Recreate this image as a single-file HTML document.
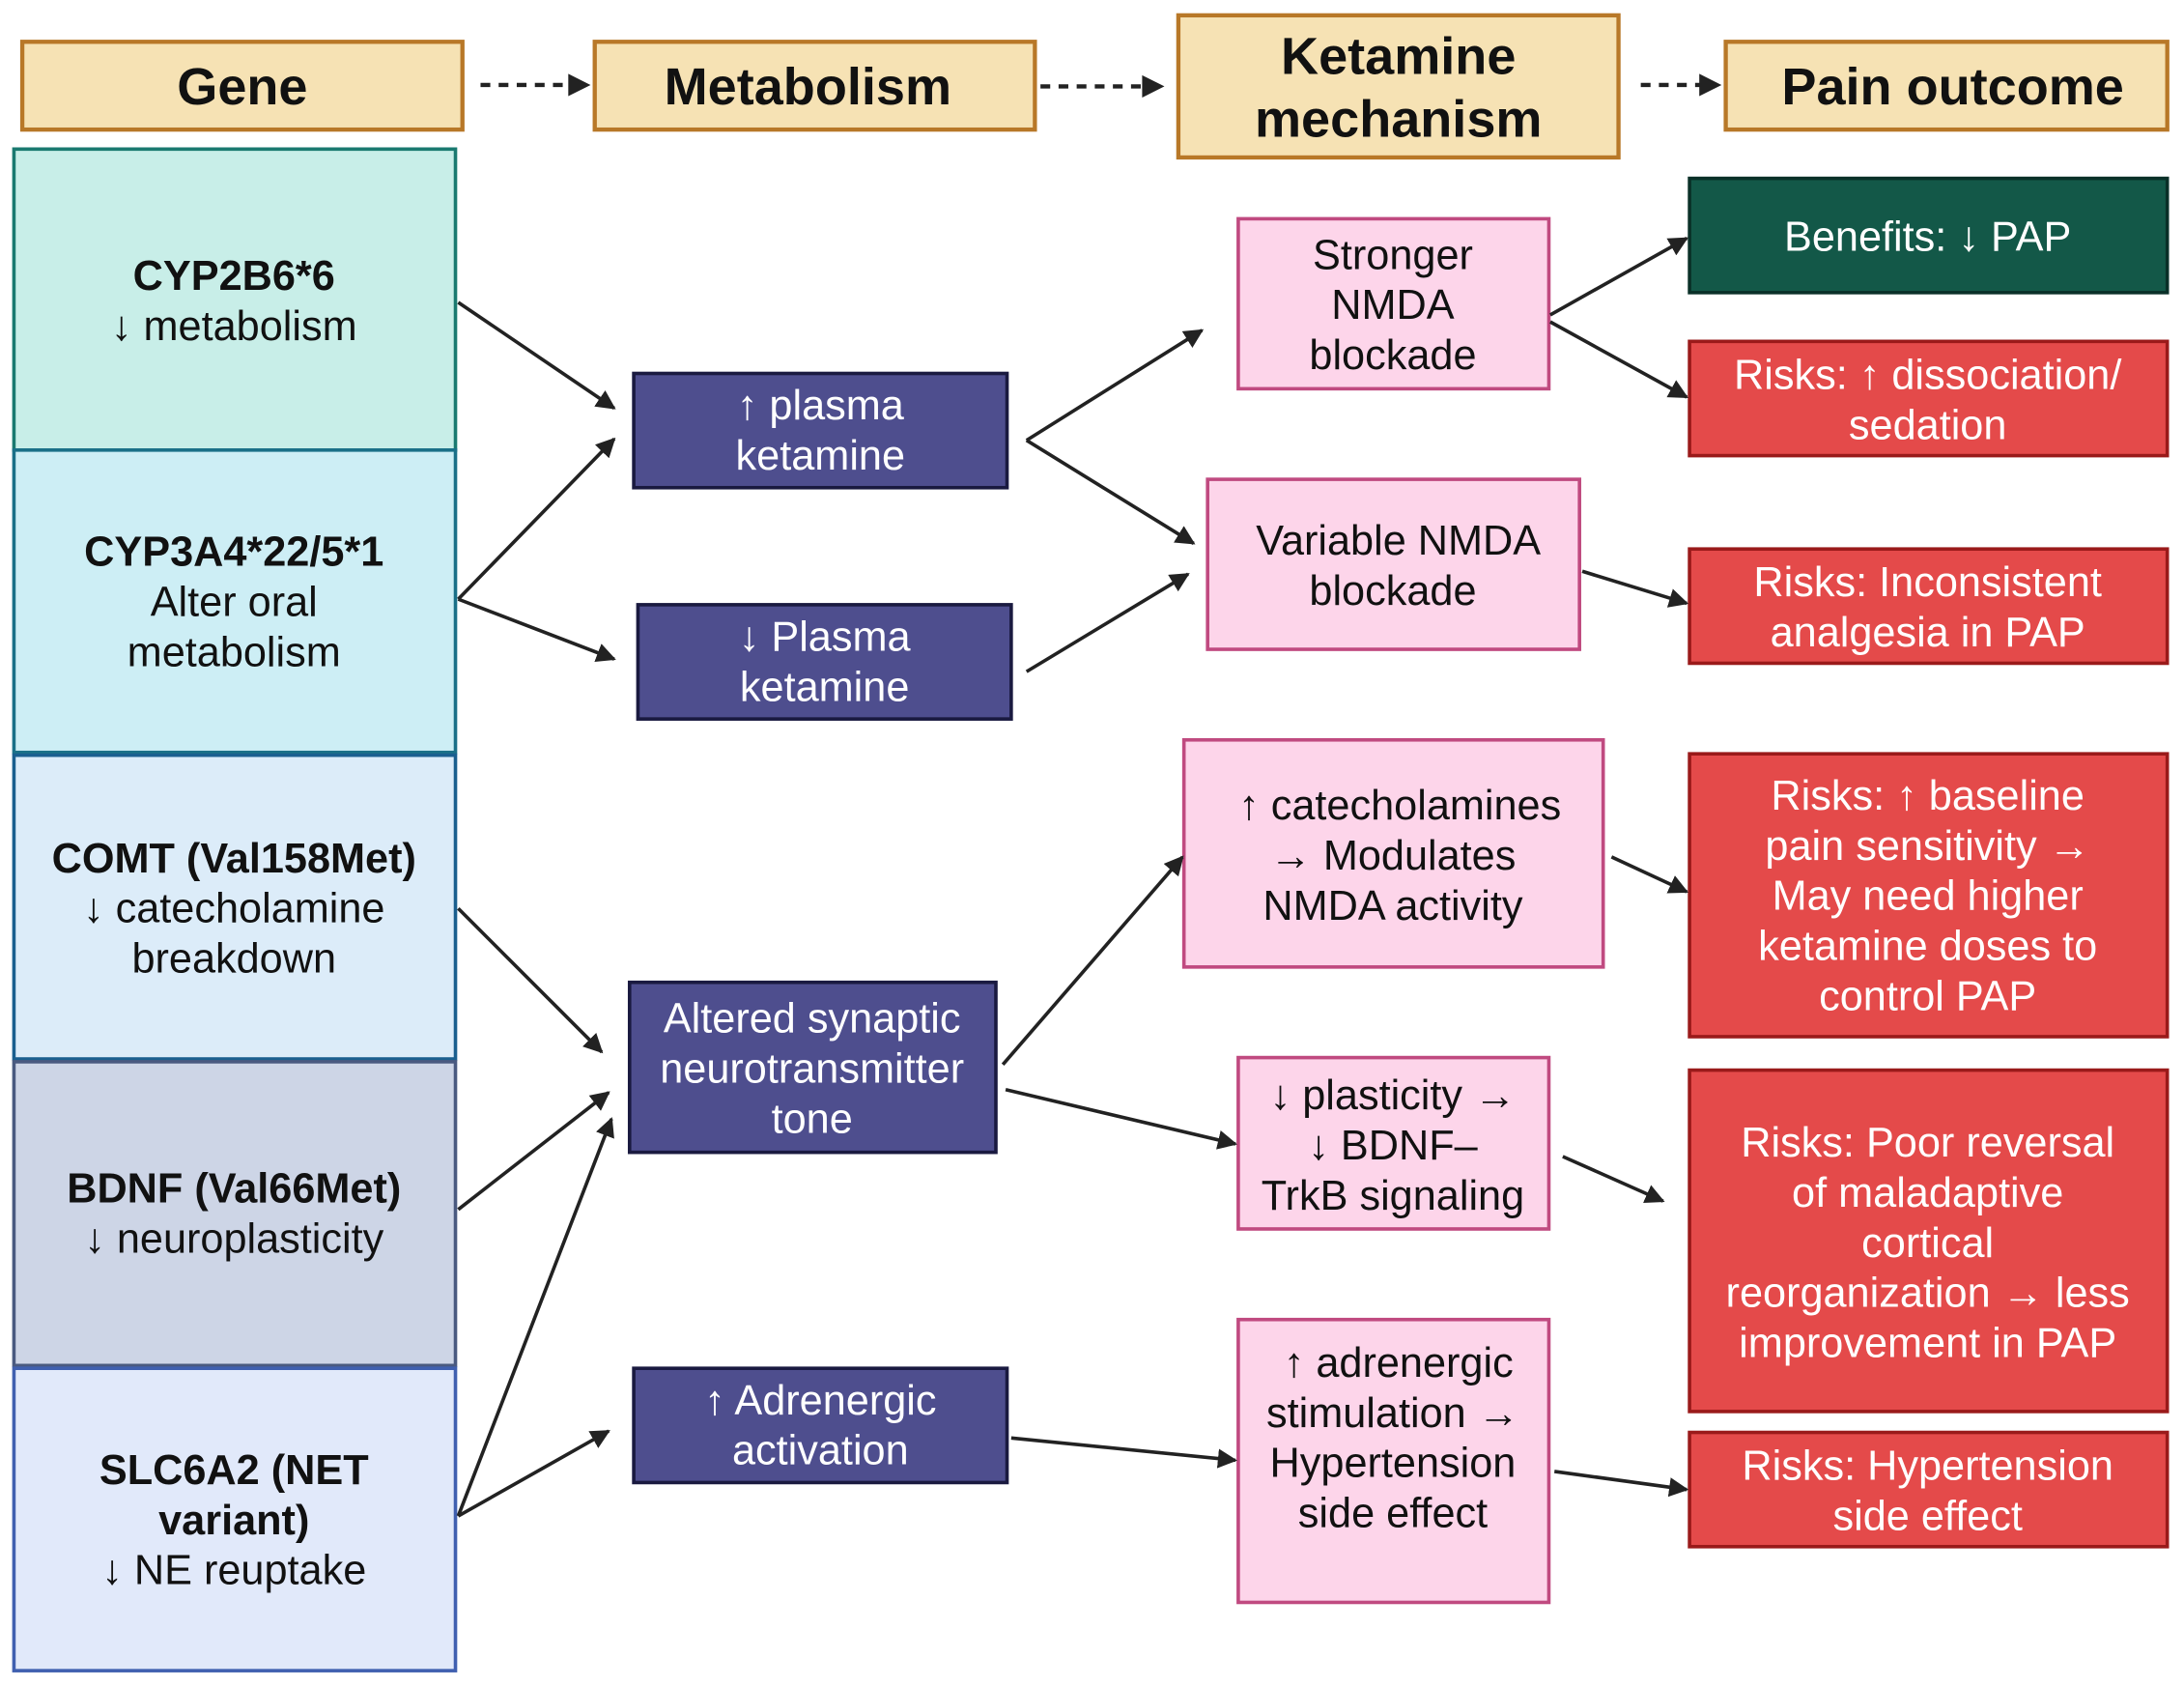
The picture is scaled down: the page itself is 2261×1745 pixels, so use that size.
<!DOCTYPE html>
<html><head><meta charset="utf-8"><style>html,body{margin:0;padding:0;background:#fff}svg{display:block}</style></head>
<body>
<svg width="2261" height="1745" viewBox="0 0 1568 1210" preserveAspectRatio="none" xmlns="http://www.w3.org/2000/svg" font-family="'Liberation Sans', 'DejaVu Sans', sans-serif">
<defs>
<marker id="b" viewBox="0 0 10 10" refX="9" refY="5" markerWidth="14" markerHeight="14" orient="auto" markerUnits="userSpaceOnUse"><path d="M0,0L10,5L0,10z" fill="#222"/></marker>
</defs>
<rect width="1568" height="1210" fill="#fff"/>
<g fill="#f6e2b4" stroke="#b87828" stroke-width="3">
<rect x="16" y="30" width="316" height="63"/>
<rect x="427" y="30" width="316" height="63"/>
<rect x="846" y="11" width="316" height="102"/>
<rect x="1239" y="30" width="317" height="63"/>
</g>
<g font-weight="bold" font-size="37.5" text-anchor="middle" fill="#111">
<text x="174" y="75">Gene</text>
<text x="580" y="75">Metabolism</text>
<text x="1004" y="53">Ketamine</text>
<text x="1004" y="98">mechanism</text>
<text x="1402" y="75">Pain outcome</text>
</g>
<g stroke="#222" stroke-width="3" stroke-dasharray="7,6" fill="none">
<line x1="345" y1="61" x2="410" y2="61"/>
<line x1="747" y1="62" x2="822" y2="62"/>
<line x1="1178" y1="61" x2="1222" y2="61"/>
</g>
<g fill="#222"><path d="M408,53L424,61L408,69z"/><path d="M820,54L836,62L820,70z"/><path d="M1220,53L1236,61L1220,69z"/></g>
<rect x="10" y="107" width="317" height="216" fill="#c8eee8" stroke="#1a7a70" stroke-width="2.5"/>
<rect x="10" y="323" width="317" height="217" fill="#cdeef5" stroke="#1a7088" stroke-width="2.5"/>
<rect x="10" y="542" width="317" height="218" fill="#dcecf9" stroke="#1a5f8f" stroke-width="2.5"/>
<rect x="10" y="762" width="317" height="218" fill="#cdd5e6" stroke="#4a5a80" stroke-width="2.5"/>
<rect x="10" y="982" width="317" height="217" fill="#e1e9fa" stroke="#4060b0" stroke-width="2.5"/>
<g font-size="30" text-anchor="middle" fill="#111">
<text x="168" y="208" font-weight="bold">CYP2B6*6</text><text x="168" y="244">↓ metabolism</text>
<text x="168" y="406" font-weight="bold">CYP3A4*22/5*1</text><text x="168" y="442">Alter oral</text><text x="168" y="478">metabolism</text>
<text x="168" y="626" font-weight="bold">COMT (Val158Met)</text><text x="168" y="662">↓ catecholamine</text><text x="168" y="698">breakdown</text>
<text x="168" y="863" font-weight="bold">BDNF (Val66Met)</text><text x="168" y="899">↓ neuroplasticity</text>
<text x="168" y="1065" font-weight="bold">SLC6A2 (NET</text><text x="168" y="1101" font-weight="bold">variant)</text><text x="168" y="1137">↓ NE reuptake</text>
</g>
<g fill="#4e4e8e" stroke="#1a1a40" stroke-width="2.5">
<rect x="455" y="268" width="268" height="82"/>
<rect x="458" y="434" width="268" height="82"/>
<rect x="452" y="705" width="263" height="122"/>
<rect x="455" y="982" width="268" height="82"/>
</g>
<g font-size="30" text-anchor="middle" fill="#fff">
<text x="589" y="301">↑ plasma</text><text x="589" y="337">ketamine</text>
<text x="592" y="467">↓ Plasma</text><text x="592" y="503">ketamine</text>
<text x="583" y="741">Altered synaptic</text><text x="583" y="777">neurotransmitter</text><text x="583" y="813">tone</text>
<text x="589" y="1015">↑ Adrenergic</text><text x="589" y="1051">activation</text>
</g>
<g fill="#fdd5ea" stroke="#c04a80" stroke-width="2.5">
<rect x="889" y="157" width="223" height="122"/>
<rect x="867" y="344" width="267" height="122"/>
<rect x="850" y="531" width="301" height="163"/>
<rect x="889" y="759" width="223" height="123"/>
<rect x="889" y="947" width="223" height="203"/>
</g>
<g font-size="30" text-anchor="middle" fill="#111">
<text x="1000" y="193">Stronger</text><text x="1000" y="229">NMDA</text><text x="1000" y="265">blockade</text>
<text x="1004" y="398">Variable NMDA</text><text x="1000" y="434">blockade</text>
<text x="1005" y="588">↑ catecholamines</text><text x="1000" y="624">→ Modulates</text><text x="1000" y="660">NMDA activity</text>
<text x="1000" y="796">↓ plasticity →</text><text x="1000" y="832">↓ BDNF–</text><text x="1000" y="868">TrkB signaling</text>
<text x="1004" y="988">↑ adrenergic</text><text x="1000" y="1024">stimulation →</text><text x="1000" y="1060">Hypertension</text><text x="1000" y="1096">side effect</text>
</g>
<rect x="1213" y="128" width="343" height="82" fill="#135848" stroke="#0a3028" stroke-width="2.5"/>
<g fill="#e44a4a" stroke="#9a1a1a" stroke-width="2.5">
<rect x="1213" y="245" width="343" height="82"/>
<rect x="1213" y="394" width="343" height="82"/>
<rect x="1213" y="541" width="343" height="203"/>
<rect x="1213" y="768" width="343" height="245"/>
<rect x="1213" y="1028" width="343" height="82"/>
</g>
<g font-size="30" text-anchor="middle" fill="#fff">
<text x="1384" y="180">Benefits: ↓ PAP</text>
<text x="1384" y="279">Risks: ↑ dissociation/</text><text x="1384" y="315">sedation</text>
<text x="1384" y="428">Risks: Inconsistent</text><text x="1384" y="464">analgesia in PAP</text>
<text x="1384" y="581">Risks:  ↑ baseline</text><text x="1384" y="617">pain sensitivity →</text><text x="1384" y="653">May need higher</text><text x="1384" y="689">ketamine doses to</text><text x="1384" y="725">control PAP</text>
<text x="1384" y="830">Risks:  Poor reversal</text><text x="1384" y="866">of maladaptive</text><text x="1384" y="902">cortical</text><text x="1384" y="938">reorganization → less</text><text x="1384" y="974">improvement in PAP</text>
<text x="1384" y="1062">Risks: Hypertension</text><text x="1384" y="1098">side effect</text>
</g>
<g stroke="#222" stroke-width="2.5" fill="none" marker-end="url(#b)">
<line x1="329" y1="217" x2="441" y2="293"/>
<line x1="329" y1="430" x2="441" y2="315"/>
<line x1="329" y1="430" x2="441" y2="473"/>
<line x1="737" y1="316" x2="863" y2="237"/>
<line x1="737" y1="316" x2="857" y2="390"/>
<line x1="737" y1="482" x2="853" y2="412"/>
<line x1="1113" y1="226" x2="1211" y2="171"/>
<line x1="1113" y1="231" x2="1211" y2="285"/>
<line x1="1136" y1="410" x2="1211" y2="433"/>
<line x1="329" y1="652" x2="432" y2="755"/>
<line x1="329" y1="868" x2="437" y2="784"/>
<line x1="329" y1="1088" x2="439" y2="803"/>
<line x1="329" y1="1088" x2="437" y2="1027"/>
<line x1="720" y1="764" x2="849" y2="615"/>
<line x1="722" y1="782" x2="887" y2="821"/>
<line x1="1157" y1="615" x2="1211" y2="640"/>
<line x1="1122" y1="830" x2="1194" y2="862"/>
<line x1="726" y1="1032" x2="887" y2="1048"/>
<line x1="1116" y1="1056" x2="1211" y2="1069"/>
</g>
</svg>
</body></html>
